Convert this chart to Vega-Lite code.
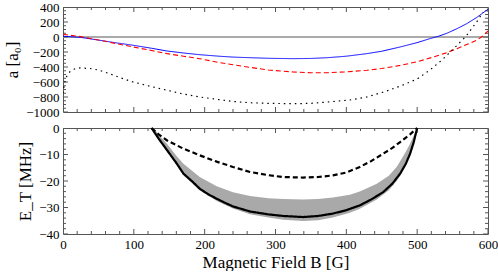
{
  "$schema": "https://vega.github.io/schema/vega-lite/v6.json",
  "padding": {"left": 3, "top": 0, "right": 10, "bottom": 0},
  "autosize": {"type": "pad"},
  "spacing": 1,
  "resolve": {"scale": {"x": "independent", "y": "independent"}},
  "config": {
    "view": {"stroke": "#555555", "strokeWidth": 1},
    "axis": {
      "domain": false, "grid": false, "ticks": false,
      "labelFont": "Liberation Serif, serif", "labelFontSize": 13, "labelColor": "#000000", "labelPadding": 4,
      "titleFont": "Liberation Serif, serif", "titleFontSize": 17, "titleFontWeight": "normal", "titleColor": "#000000",
      "labelFlush": false, "labelOverlap": false
    }
  },
  "datasets": {
    "top": [
      {"B": 0, "a": 10, "s": "blue"}, {"B": 25, "a": -5, "s": "blue"}, {"B": 52, "a": -44, "s": "blue"}, {"B": 75, "a": -78, "s": "blue"}, {"B": 99, "a": -110, "s": "blue"}, {"B": 125, "a": -150, "s": "blue"}, {"B": 147, "a": -187, "s": "blue"}, {"B": 170, "a": -213, "s": "blue"}, {"B": 193, "a": -236, "s": "blue"}, {"B": 220, "a": -256, "s": "blue"}, {"B": 240, "a": -268, "s": "blue"}, {"B": 264, "a": -276, "s": "blue"}, {"B": 290, "a": -284, "s": "blue"}, {"B": 325, "a": -289, "s": "blue"}, {"B": 350, "a": -286, "s": "blue"}, {"B": 373, "a": -276, "s": "blue"}, {"B": 400, "a": -256, "s": "blue"}, {"B": 429, "a": -222, "s": "blue"}, {"B": 450, "a": -190, "s": "blue"}, {"B": 476, "a": -133, "s": "blue"}, {"B": 500, "a": -75, "s": "blue"}, {"B": 518, "a": -22, "s": "blue"}, {"B": 530, "a": 10, "s": "blue"}, {"B": 542, "a": 50, "s": "blue"}, {"B": 556, "a": 110, "s": "blue"}, {"B": 570, "a": 178, "s": "blue"}, {"B": 584, "a": 260, "s": "blue"}, {"B": 600, "a": 370, "s": "blue"},
      {"B": 0, "a": 36, "s": "red"}, {"B": 25, "a": 5, "s": "red"}, {"B": 52, "a": -44, "s": "red"}, {"B": 75, "a": -88, "s": "red"}, {"B": 99, "a": -133, "s": "red"}, {"B": 125, "a": -180, "s": "red"}, {"B": 147, "a": -222, "s": "red"}, {"B": 170, "a": -256, "s": "red"}, {"B": 193, "a": -289, "s": "red"}, {"B": 220, "a": -340, "s": "red"}, {"B": 240, "a": -370, "s": "red"}, {"B": 264, "a": -405, "s": "red"}, {"B": 290, "a": -440, "s": "red"}, {"B": 325, "a": -467, "s": "red"}, {"B": 350, "a": -476, "s": "red"}, {"B": 373, "a": -476, "s": "red"}, {"B": 400, "a": -465, "s": "red"}, {"B": 429, "a": -444, "s": "red"}, {"B": 450, "a": -420, "s": "red"}, {"B": 476, "a": -378, "s": "red"}, {"B": 500, "a": -330, "s": "red"}, {"B": 523, "a": -267, "s": "red"}, {"B": 540, "a": -215, "s": "red"}, {"B": 556, "a": -156, "s": "red"}, {"B": 570, "a": -100, "s": "red"}, {"B": 584, "a": -44, "s": "red"}, {"B": 592, "a": 10, "s": "red"}, {"B": 600, "a": 80, "s": "red"},
      {"B": 0, "a": -750, "s": "black"}, {"B": 2, "a": -620, "s": "black"}, {"B": 5, "a": -530, "s": "black"}, {"B": 10, "a": -460, "s": "black"}, {"B": 15, "a": -430, "s": "black"}, {"B": 24, "a": -413, "s": "black"}, {"B": 38, "a": -420, "s": "black"}, {"B": 50, "a": -440, "s": "black"}, {"B": 66, "a": -490, "s": "black"}, {"B": 80, "a": -540, "s": "black"}, {"B": 99, "a": -600, "s": "black"}, {"B": 120, "a": -650, "s": "black"}, {"B": 147, "a": -710, "s": "black"}, {"B": 170, "a": -760, "s": "black"}, {"B": 193, "a": -800, "s": "black"}, {"B": 220, "a": -835, "s": "black"}, {"B": 240, "a": -860, "s": "black"}, {"B": 264, "a": -876, "s": "black"}, {"B": 290, "a": -885, "s": "black"}, {"B": 325, "a": -889, "s": "black"}, {"B": 350, "a": -885, "s": "black"}, {"B": 373, "a": -867, "s": "black"}, {"B": 405, "a": -840, "s": "black"}, {"B": 429, "a": -800, "s": "black"}, {"B": 457, "a": -720, "s": "black"}, {"B": 480, "a": -640, "s": "black"}, {"B": 500, "a": -560, "s": "black"}, {"B": 518, "a": -440, "s": "black"}, {"B": 535, "a": -307, "s": "black"}, {"B": 551, "a": -160, "s": "black"}, {"B": 568, "a": 0, "s": "black"}, {"B": 584, "a": 200, "s": "black"}, {"B": 593, "a": 333, "s": "black"}
    ],
    "zero": [{"a": 0}],
    "bottom": [
      {"B": 125, "E": 0, "s": "solid"}, {"B": 135, "E": -4, "s": "solid"}, {"B": 147, "E": -8.4, "s": "solid"}, {"B": 160, "E": -13.2, "s": "solid"}, {"B": 170, "E": -17.2, "s": "solid"}, {"B": 183, "E": -20.3, "s": "solid"}, {"B": 193, "E": -22.9, "s": "solid"}, {"B": 205, "E": -25, "s": "solid"}, {"B": 217, "E": -26.7, "s": "solid"}, {"B": 230, "E": -28.4, "s": "solid"}, {"B": 240, "E": -29.6, "s": "solid"}, {"B": 264, "E": -31.5, "s": "solid"}, {"B": 290, "E": -32.6, "s": "solid"}, {"B": 311, "E": -33.2, "s": "solid"}, {"B": 339, "E": -33.6, "s": "solid"}, {"B": 360, "E": -33.2, "s": "solid"}, {"B": 381, "E": -32.3, "s": "solid"}, {"B": 400, "E": -31, "s": "solid"}, {"B": 419, "E": -29.2, "s": "solid"}, {"B": 435, "E": -27, "s": "solid"}, {"B": 452, "E": -24.2, "s": "solid"}, {"B": 465, "E": -21, "s": "solid"}, {"B": 476, "E": -17.2, "s": "solid"}, {"B": 484, "E": -13.5, "s": "solid"}, {"B": 490, "E": -9.7, "s": "solid"}, {"B": 495, "E": -5.5, "s": "solid"}, {"B": 500, "E": 0, "s": "solid"},
      {"B": 125, "E": 0, "s": "dashed"}, {"B": 135, "E": -2.4, "s": "dashed"}, {"B": 147, "E": -4.7, "s": "dashed"}, {"B": 170, "E": -7.8, "s": "dashed"}, {"B": 193, "E": -10.3, "s": "dashed"}, {"B": 217, "E": -12.7, "s": "dashed"}, {"B": 240, "E": -14.7, "s": "dashed"}, {"B": 264, "E": -16.6, "s": "dashed"}, {"B": 290, "E": -17.8, "s": "dashed"}, {"B": 311, "E": -18.5, "s": "dashed"}, {"B": 339, "E": -18.7, "s": "dashed"}, {"B": 360, "E": -18.5, "s": "dashed"}, {"B": 381, "E": -17.9, "s": "dashed"}, {"B": 400, "E": -16.8, "s": "dashed"}, {"B": 419, "E": -14.7, "s": "dashed"}, {"B": 435, "E": -12.5, "s": "dashed"}, {"B": 452, "E": -9.7, "s": "dashed"}, {"B": 465, "E": -7.5, "s": "dashed"}, {"B": 476, "E": -5.3, "s": "dashed"}, {"B": 490, "E": -2.4, "s": "dashed"}, {"B": 500, "E": 0, "s": "dashed"}
    ],
    "band": [
      {"B": 128, "lo": -1, "hi": 0}, {"B": 135, "lo": -4.5, "hi": -2.5}, {"B": 147, "lo": -9, "hi": -6}, {"B": 160, "lo": -13.8, "hi": -10.5}, {"B": 170, "lo": -17.8, "hi": -13.5}, {"B": 193, "lo": -23.5, "hi": -18.5}, {"B": 217, "lo": -27.5, "hi": -22}, {"B": 240, "lo": -30.4, "hi": -24.2}, {"B": 264, "lo": -32.5, "hi": -25.7}, {"B": 290, "lo": -33.8, "hi": -26.5}, {"B": 311, "lo": -34.6, "hi": -26.8}, {"B": 339, "lo": -35.1, "hi": -27}, {"B": 360, "lo": -34.8, "hi": -26.8}, {"B": 381, "lo": -33.8, "hi": -26.2}, {"B": 405, "lo": -32, "hi": -25.2}, {"B": 419, "lo": -30.5, "hi": -24}, {"B": 443, "lo": -27, "hi": -21}, {"B": 460, "lo": -23.5, "hi": -18}, {"B": 471, "lo": -20, "hi": -14.7}, {"B": 476, "lo": -18, "hi": -12.5}, {"B": 484, "lo": -14, "hi": -9}, {"B": 490, "lo": -10, "hi": -5.9}, {"B": 495, "lo": -5.5, "hi": -3}, {"B": 500, "lo": -0.5, "hi": 0}
    ],
    "xticks": [
      {"B": 0, "k": "major"}, {"B": 20, "k": "minor"}, {"B": 40, "k": "minor"}, {"B": 60, "k": "minor"}, {"B": 80, "k": "minor"},
      {"B": 100, "k": "major"}, {"B": 120, "k": "minor"}, {"B": 140, "k": "minor"}, {"B": 160, "k": "minor"}, {"B": 180, "k": "minor"},
      {"B": 200, "k": "major"}, {"B": 220, "k": "minor"}, {"B": 240, "k": "minor"}, {"B": 260, "k": "minor"}, {"B": 280, "k": "minor"},
      {"B": 300, "k": "major"}, {"B": 320, "k": "minor"}, {"B": 340, "k": "minor"}, {"B": 360, "k": "minor"}, {"B": 380, "k": "minor"},
      {"B": 400, "k": "major"}, {"B": 420, "k": "minor"}, {"B": 440, "k": "minor"}, {"B": 460, "k": "minor"}, {"B": 480, "k": "minor"},
      {"B": 500, "k": "major"}, {"B": 520, "k": "minor"}, {"B": 540, "k": "minor"}, {"B": 560, "k": "minor"}, {"B": 580, "k": "minor"},
      {"B": 600, "k": "major"}
    ],
    "aticks": [
      {"a": -1000, "k": "major"}, {"a": -950, "k": "minor"}, {"a": -900, "k": "minor"}, {"a": -850, "k": "minor"},
      {"a": -800, "k": "major"}, {"a": -750, "k": "minor"}, {"a": -700, "k": "minor"}, {"a": -650, "k": "minor"},
      {"a": -600, "k": "major"}, {"a": -550, "k": "minor"}, {"a": -500, "k": "minor"}, {"a": -450, "k": "minor"},
      {"a": -400, "k": "major"}, {"a": -350, "k": "minor"}, {"a": -300, "k": "minor"}, {"a": -250, "k": "minor"},
      {"a": -200, "k": "major"}, {"a": -150, "k": "minor"}, {"a": -100, "k": "minor"}, {"a": -50, "k": "minor"},
      {"a": 0, "k": "major"}, {"a": 50, "k": "minor"}, {"a": 100, "k": "minor"}, {"a": 150, "k": "minor"},
      {"a": 200, "k": "major"}, {"a": 250, "k": "minor"}, {"a": 300, "k": "minor"}, {"a": 350, "k": "minor"},
      {"a": 400, "k": "major"}
    ],
    "eticks": [
      {"E": -40, "k": "major"}, {"E": -38, "k": "minor"}, {"E": -36, "k": "minor"}, {"E": -34, "k": "minor"}, {"E": -32, "k": "minor"},
      {"E": -30, "k": "major"}, {"E": -28, "k": "minor"}, {"E": -26, "k": "minor"}, {"E": -24, "k": "minor"}, {"E": -22, "k": "minor"},
      {"E": -20, "k": "major"}, {"E": -18, "k": "minor"}, {"E": -16, "k": "minor"}, {"E": -14, "k": "minor"}, {"E": -12, "k": "minor"},
      {"E": -10, "k": "major"}, {"E": -8, "k": "minor"}, {"E": -6, "k": "minor"}, {"E": -4, "k": "minor"}, {"E": -2, "k": "minor"},
      {"E": 0, "k": "major"}
    ]
  },
  "vconcat": [
    {
      "width": 425,
      "height": 105,
      "resolve": {"axis": {"x": "independent", "y": "independent"}},
      "layer": [
        {
          "data": {"name": "zero"},
          "mark": {"type": "rule", "color": "#aaaaaa", "strokeWidth": 2},
          "encoding": {"y": {"field": "a", "type": "quantitative", "scale": {"domain": [-1000, 400], "nice": false, "zero": false}, "axis": null}}
        },
        {
          "data": {"name": "xticks"},
          "mark": {"type": "tick", "orient": "vertical", "clip": true, "color": "#555555", "thickness": 1, "opacity": 1},
          "encoding": {
            "x": {"field": "B", "type": "quantitative", "scale": {"domain": [0, 600], "nice": false}, "axis": null},
            "y": {"datum": -1000, "type": "quantitative", "axis": null},
            "size": {"field": "k", "type": "nominal", "legend": null, "scale": {"domain": ["major", "minor"], "range": [10, 6]}}
          }
        },
        {
          "data": {"name": "xticks"},
          "mark": {"type": "tick", "orient": "vertical", "clip": true, "color": "#555555", "thickness": 1, "opacity": 1},
          "encoding": {
            "x": {"field": "B", "type": "quantitative", "axis": null},
            "y": {"datum": 400, "type": "quantitative", "axis": null},
            "size": {"field": "k", "type": "nominal", "legend": null, "scale": {"domain": ["major", "minor"], "range": [10, 6]}}
          }
        },
        {
          "data": {"name": "aticks"},
          "mark": {"type": "tick", "orient": "horizontal", "clip": true, "color": "#555555", "thickness": 1, "opacity": 1},
          "encoding": {
            "y": {"field": "a", "type": "quantitative", "axis": null},
            "x": {"datum": 0, "type": "quantitative", "axis": null},
            "size": {"field": "k", "type": "nominal", "legend": null, "scale": {"domain": ["major", "minor"], "range": [10, 6]}}
          }
        },
        {
          "data": {"name": "aticks"},
          "mark": {"type": "tick", "orient": "horizontal", "clip": true, "color": "#555555", "thickness": 1, "opacity": 1},
          "encoding": {
            "y": {"field": "a", "type": "quantitative", "axis": null},
            "x": {"datum": 600, "type": "quantitative", "axis": null},
            "size": {"field": "k", "type": "nominal", "legend": null, "scale": {"domain": ["major", "minor"], "range": [10, 6]}}
          }
        },
        {
          "data": {"name": "top"},
          "mark": {"type": "line", "clip": true},
          "encoding": {
            "x": {"field": "B", "type": "quantitative", "axis": null},
            "y": {"field": "a", "type": "quantitative",
              "axis": {"orient": "left", "title": "a [a₀]", "format": "d", "titlePadding": 4,
                "values": [-1000, -800, -600, -400, -200, 0, 200, 400]}},
            "detail": {"field": "s"},
            "color": {"field": "s", "type": "nominal", "legend": null, "scale": {"domain": ["blue", "red", "black"], "range": ["#0000ff", "#ff0000", "#000000"]}},
            "strokeDash": {"field": "s", "type": "nominal", "legend": null, "scale": {"domain": ["blue", "red", "black"], "range": [[1, 0], [5, 3], [1.5, 4]]}},
            "strokeWidth": {"field": "s", "type": "nominal", "legend": null, "scale": {"domain": ["blue", "red", "black"], "range": [1, 1.2, 1.4]}}
          }
        }
      ]
    },
    {
      "width": 425,
      "height": 106,
      "resolve": {"axis": {"x": "independent", "y": "independent"}},
      "layer": [
        {
          "data": {"name": "band"},
          "mark": {"type": "area", "color": "#a9a9a9", "opacity": 1},
          "encoding": {
            "x": {"field": "B", "type": "quantitative", "scale": {"domain": [0, 600], "nice": false}, "axis": null},
            "y": {"field": "lo", "type": "quantitative", "scale": {"domain": [-40, 0], "nice": false}, "axis": null},
            "y2": {"field": "hi"}
          }
        },
        {
          "data": {"name": "xticks"},
          "mark": {"type": "tick", "orient": "vertical", "clip": true, "color": "#555555", "thickness": 1, "opacity": 1},
          "encoding": {
            "x": {"field": "B", "type": "quantitative", "axis": null},
            "y": {"datum": -40, "type": "quantitative", "axis": null},
            "size": {"field": "k", "type": "nominal", "legend": null, "scale": {"domain": ["major", "minor"], "range": [10, 6]}}
          }
        },
        {
          "data": {"name": "xticks"},
          "mark": {"type": "tick", "orient": "vertical", "clip": true, "color": "#555555", "thickness": 1, "opacity": 1},
          "encoding": {
            "x": {"field": "B", "type": "quantitative", "axis": null},
            "y": {"datum": 0, "type": "quantitative", "axis": null},
            "size": {"field": "k", "type": "nominal", "legend": null, "scale": {"domain": ["major", "minor"], "range": [10, 6]}}
          }
        },
        {
          "data": {"name": "eticks"},
          "mark": {"type": "tick", "orient": "horizontal", "clip": true, "color": "#555555", "thickness": 1, "opacity": 1},
          "encoding": {
            "y": {"field": "E", "type": "quantitative", "axis": null},
            "x": {"datum": 0, "type": "quantitative", "axis": null},
            "size": {"field": "k", "type": "nominal", "legend": null, "scale": {"domain": ["major", "minor"], "range": [10, 6]}}
          }
        },
        {
          "data": {"name": "eticks"},
          "mark": {"type": "tick", "orient": "horizontal", "clip": true, "color": "#555555", "thickness": 1, "opacity": 1},
          "encoding": {
            "y": {"field": "E", "type": "quantitative", "axis": null},
            "x": {"datum": 600, "type": "quantitative", "axis": null},
            "size": {"field": "k", "type": "nominal", "legend": null, "scale": {"domain": ["major", "minor"], "range": [10, 6]}}
          }
        },
        {
          "data": {"name": "bottom"},
          "mark": {"type": "line", "color": "#000000", "strokeWidth": 2.2},
          "encoding": {
            "x": {"field": "B", "type": "quantitative",
              "axis": {"orient": "bottom", "title": "Magnetic Field B [G]", "titlePadding": 3,
                "values": [0, 100, 200, 300, 400, 500, 600]}},
            "y": {"field": "E", "type": "quantitative",
              "axis": {"orient": "left", "title": "E_T [MHz]", "format": "d", "titlePadding": 4,
                "values": [-40, -30, -20, -10, 0]}},
            "detail": {"field": "s"},
            "strokeDash": {"field": "s", "type": "nominal", "legend": null, "scale": {"domain": ["solid", "dashed"], "range": [[1, 0], [7, 4]]}}
          }
        }
      ]
    }
  ]
}
